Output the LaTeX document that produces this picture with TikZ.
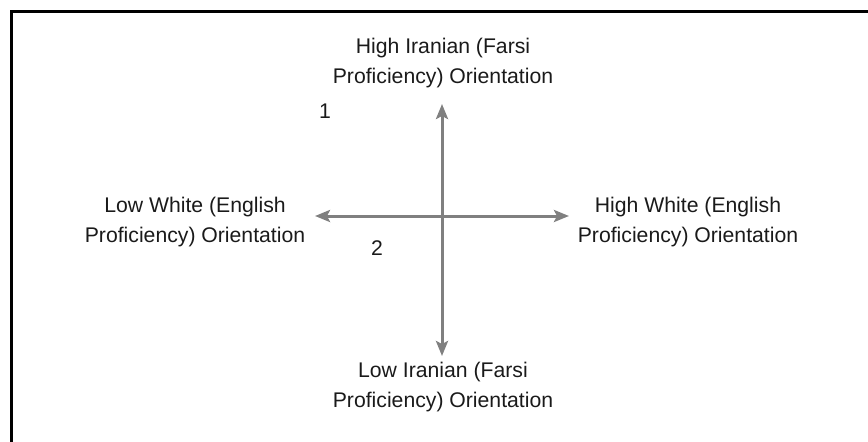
\documentclass[tikz,border=0pt]{standalone}
\usepackage{fontspec}
\setmainfont{Liberation Sans}
\usetikzlibrary{arrows.meta}
\definecolor{axisgray}{HTML}{808080}
\definecolor{textgray}{HTML}{1A1A1A}
\begin{document}
\begin{tikzpicture}[x=1pt,y=-1pt,
  axis/.style={draw=axisgray,line width=3pt,-{Stealth[length=15pt,width=12pt,inset=3pt]}},
  frame/.style={draw=black,line width=3pt},
  lbl/.style={align=center,inner sep=0pt,text=textgray,font=\fontsize{21.2}{30}\selectfont},
  num/.style={inner sep=0pt,text=textgray,font=\fontsize{21.2}{24}\selectfont}]
  \useasboundingbox (0,0) rectangle (868,442);
  % open frame: top and left edges only
  \coordinate (fbl) at (11,442);
  \coordinate (ftl) at (11,11);
  \coordinate (ftr) at (868,11);
  \draw[frame] (fbl) -- (ftl) -- (ftr);
  % axes
  \coordinate (c) at (442,216);
  \coordinate (up) at (442,104);
  \coordinate (down) at (442,356);
  \coordinate (left) at (315,216);
  \coordinate (right) at (569,216);
  \draw[axis] (c) -- (up);
  \draw[axis] (c) -- (down);
  \draw[axis] (c) -- (left);
  \draw[axis] (c) -- (right);
  % pole labels
  \node[lbl] (top) at (443,63) {High Iranian (Farsi\\Proficiency) Orientation};
  \node[lbl] (bottom) at (443,387) {Low Iranian (Farsi\\Proficiency) Orientation};
  \node[lbl] (west) at (195,222) {Low White (English\\Proficiency) Orientation};
  \node[lbl] (east) at (688,222) {High White (English\\Proficiency) Orientation};
  % quadrant markers
  \node[num] (q1) at (325,111) {1};
  \node[num] (q2) at (377,248) {2};
\end{tikzpicture}
\end{document}
